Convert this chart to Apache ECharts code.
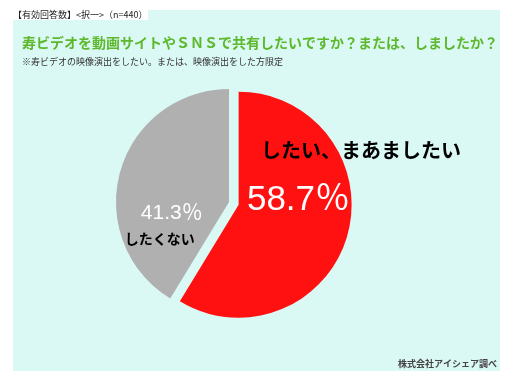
<!DOCTYPE html>
<html><head><meta charset="utf-8">
<script src="https://cdn.jsdelivr.net/npm/echarts@6/dist/echarts.min.js"></script>
<style>html,body{margin:0;padding:0;background:#fff}#c{width:512px;height:383px}</style>
</head><body><div id="c"></div>
<script>
const headerText = '【有効回答数】<択一>（n=440）';
const titleText = '寿ビデオを動画サイトやＳＮＳで共有したいですか？または、しましたか？';
const subText = '※寿ビデオの映像演出をしたい。または、映像演出をした方限定';
const sourceText = '株式会社アイシェア調べ';
const categories = ['したい、まあましたい', 'したくない'];
const values = [58.7, 41.3];
const colors = ['#FF1111', '#B0B0B0'];

const JP = '"Noto Sans CJK JP", sans-serif';
const NUM = '"Liberation Sans", "Noto Sans CJK JP", sans-serif';
const labelShift = [[58, -40], [-8, 40]];

const chart = echarts.init(document.getElementById('c'), null, {renderer: 'canvas'});
chart.setOption({
  backgroundColor: '#ffffff',
  animation: false,
  graphic: [
    {type: 'rect', shape: {x: 13, y: 10, width: 487, height: 361}, style: {fill: '#DAF8F4'}, z: -10},
    {type: 'rect', shape: {x: 13, y: 10, width: 135, height: 10}, style: {fill: '#ffffff'}, z: -9},
    {type: 'text', left: 13, top: 10, style: {text: headerText, font: '9px ' + JP, fill: '#222'}},
    {type: 'text', left: 22, top: 36, style: {text: titleText, font: 'bold 14px ' + JP, fill: '#5DB82C'}},
    {type: 'text', left: 22, top: 57, style: {text: subText, font: '9px ' + JP, fill: '#333'}},
    {type: 'text', right: 15, top: 359, style: {text: sourceText, font: 'bold 9px ' + JP, fill: '#444'}}
  ],
  series: [{
    type: 'pie',
    center: [229, 202],
    radius: 113,
    startAngle: 90,
    clockwise: true,
    selectedMode: 'single',
    selectedOffset: 10,
    silent: true,
    labelLine: {show: false},
    labelLayout: p => ({dx: labelShift[p.dataIndex][0], dy: labelShift[p.dataIndex][1]}),
    data: [
      {
        name: categories[0], value: values[0], selected: true,
        itemStyle: {color: colors[0]},
        label: {
          show: true, position: 'inside',
          formatter: p => '{n|' + p.name + '}\n{v|' + p.value.toFixed(1) + '％}',
          rich: {
            n: {align: 'left', fontFamily: JP, fontWeight: 'bold', fontSize: 20, color: '#000', lineHeight: 40, padding: [0, 0, 0, 14]},
            v: {align: 'left', fontFamily: NUM, fontSize: 35, color: '#fff', lineHeight: 60}
          }
        }
      },
      {
        name: categories[1], value: values[1],
        itemStyle: {color: colors[1]},
        label: {
          show: true, position: 'inside',
          formatter: p => '{v|' + p.value.toFixed(1) + '％}\n{n|' + p.name + '}',
          rich: {
            v: {align: 'left', fontFamily: NUM, fontSize: 21, color: '#fff', lineHeight: 25, padding: [0, 0, 0, 16]},
            n: {align: 'left', fontFamily: JP, fontWeight: 'bold', fontSize: 14, color: '#000', lineHeight: 25}
          }
        }
      }
    ]
  }]
});
</script></body></html>
